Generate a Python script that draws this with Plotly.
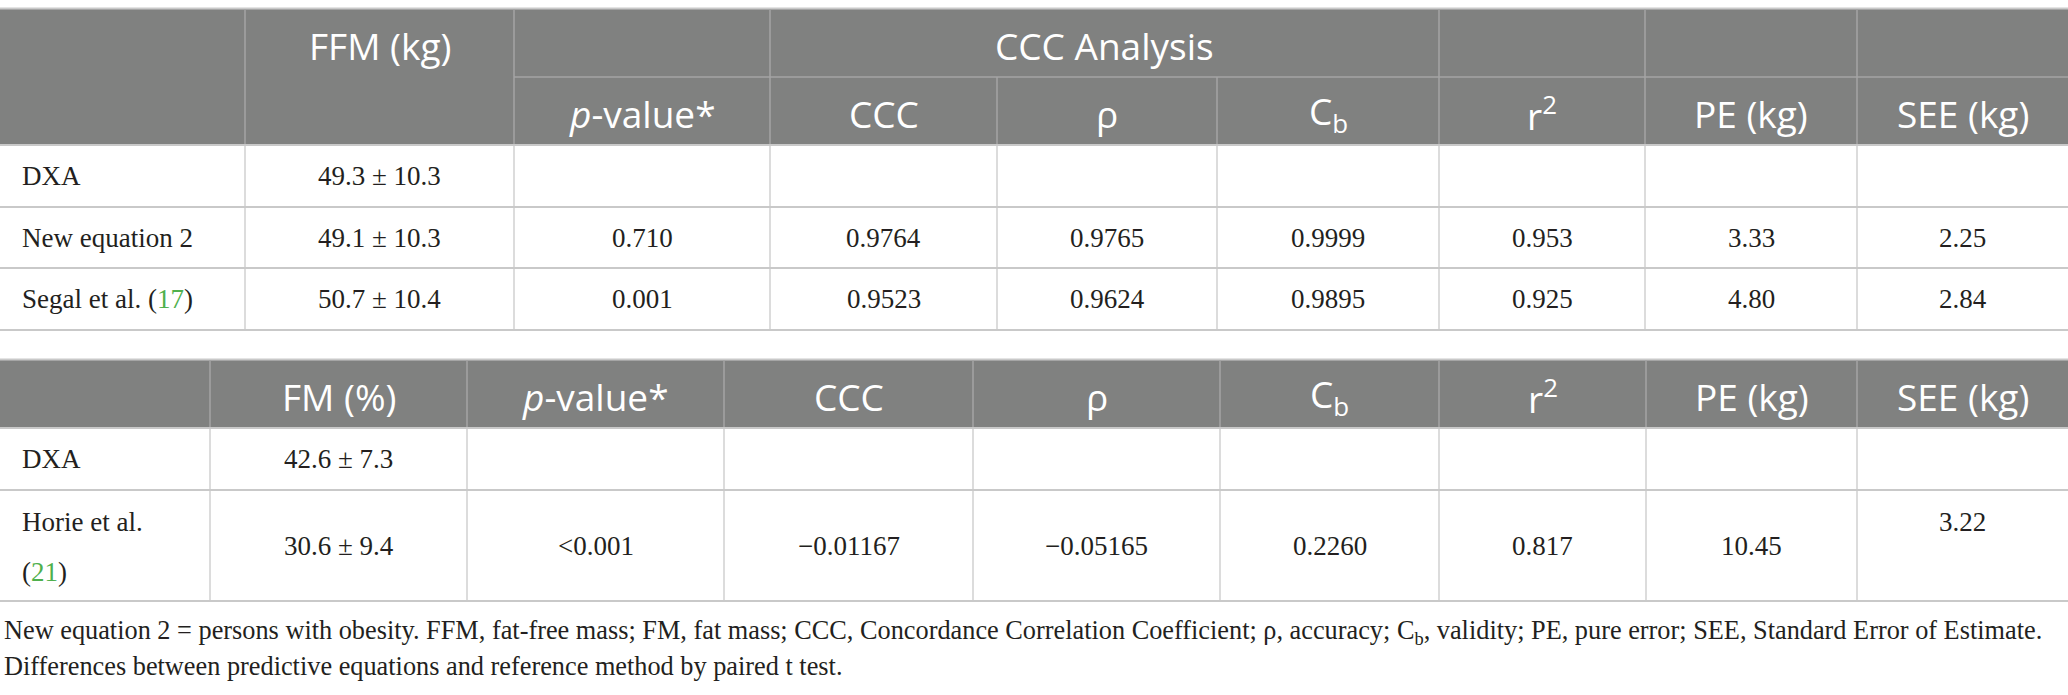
import plotly.graph_objects as go

# ---------------- data ----------------
ffm_labels = ["DXA", "New equation 2", "Segal et al."]
ffm_refs = ["", "", "17"]
ffm_mean = ["49.3 ± 10.3", "49.1 ± 10.3", "50.7 ± 10.4"]
ffm_p = ["", "0.710", "0.001"]
ffm_ccc = ["", "0.9764", "0.9523"]
ffm_rho = ["", "0.9765", "0.9624"]
ffm_cb = ["", "0.9999", "0.9895"]
ffm_r2 = ["", "0.953", "0.925"]
ffm_pe = ["", "3.33", "4.80"]
ffm_see = ["", "2.25", "2.84"]

fm_labels = ["DXA", "Horie et al."]
fm_refs = ["", "21"]
fm_mean = ["42.6 ± 7.3", "30.6 ± 9.4"]
fm_p = ["", "&lt;0.001"]
fm_ccc = ["", "\u22120.01167"]
fm_rho = ["", "\u22120.05165"]
fm_cb = ["", "0.2260"]
fm_r2 = ["", "0.817"]
fm_pe = ["", "10.45"]
fm_see = ["", "3.22"]

t1_head_top = ["FFM (kg)", "CCC Analysis"]
t1_head_cols = ["<i>p</i>-value*", "CCC", "\u03c1", "C<sub>b</sub>", "r<sup>2</sup>", "PE (kg)", "SEE (kg)"]
t2_head_cols = ["FM (%)", "<i>p</i>-value*", "CCC", "\u03c1", "C<sub>b</sub>", "r<sup>2</sup>", "PE (kg)", "SEE (kg)"]

footnote_lines = [
    "New equation 2 = persons with obesity. FFM, fat-free mass; FM, fat mass; CCC, Concordance Correlation Coefficient; "
    "\u03c1, accuracy; C<sub>b</sub>, validity; PE, pure error; SEE, Standard Error of Estimate.",
    "Differences between predictive equations and reference method by paired t test.",
]

# ---------------- layout constants ----------------
W, H = 2068, 695
T1_X = [0, 245, 514, 770, 997, 1217, 1439, 1645, 1857, 2068]
T1_Y = [9, 77, 145, 207, 268, 330]
T2_X = [0, 210, 467, 724, 973, 1220, 1439, 1646, 1857, 2068]
T2_Y = [360, 428, 490, 601]

HEAD_BG = "#808180"
HEAD_LINE = "#a4a5a4"
BODY_LINE = "#c9c9c9"
TXT = "#231f20"
GREEN = "#4fb04d"
SANS = "Open Sans"
SERIF = "Liberation Serif"
HFS = 37
BFS = 27
FFS = 26.3

shapes = []
ann = []


def line(x0, y0, x1, y1, color, w):
    shapes.append(dict(type="line", xref="x", yref="y", x0=x0, y0=y0, x1=x1, y1=y1,
                       line=dict(color=color, width=w), layer="above"))


def text(x, y, s, font, size, color, xanchor="center", yanchor="middle"):
    ann.append(dict(x=x, y=y, xref="x", yref="y", text=s, showarrow=False,
                    xanchor=xanchor, yanchor=yanchor,
                    font=dict(family=font, size=size, color=color)))


def label(name, ref):
    if ref:
        return f"{name} (<span style='color:{GREEN}'>{ref}</span>)"
    return name


def mid(a, b):
    return (a + b) / 2

# ---------------- table 1 ----------------
shapes.append(dict(type="rect", xref="x", yref="y", x0=T1_X[0], x1=T1_X[-1], y0=T1_Y[0], y1=T1_Y[2],
                   fillcolor=HEAD_BG, line=dict(width=0), layer="below"))
line(T1_X[0], T1_Y[0] - 0.5, T1_X[-1], T1_Y[0] - 0.5, BODY_LINE, 2)
for i, x in enumerate(T1_X[1:-1], start=1):
    if i in (4, 5):
        line(x, T1_Y[1], x, T1_Y[2], HEAD_LINE, 1.5)
    else:
        line(x, T1_Y[0], x, T1_Y[2], HEAD_LINE, 1.5)
    line(x, T1_Y[2], x, T1_Y[-1], BODY_LINE, 1.3)
line(T1_X[2], T1_Y[1], T1_X[-1], T1_Y[1], HEAD_LINE, 1.5)
for y in T1_Y[2:]:
    line(T1_X[0], y, T1_X[-1], y, BODY_LINE, 2)

text(mid(T1_X[1], T1_X[2]), mid(T1_Y[0], T1_Y[1]) + 2, t1_head_top[0], SANS, HFS, "white")
text(mid(T1_X[3], T1_X[6]), mid(T1_Y[0], T1_Y[1]) + 2, t1_head_top[1], SANS, HFS, "white")
for j, h in enumerate(t1_head_cols):
    text(mid(T1_X[j + 2], T1_X[j + 3]), mid(T1_Y[1], T1_Y[2]) + 2, h, SANS, HFS, "white")

t1_cols = [ffm_mean, ffm_p, ffm_ccc, ffm_rho, ffm_cb, ffm_r2, ffm_pe, ffm_see]
for r in range(len(ffm_labels)):
    yc = mid(T1_Y[r + 2], T1_Y[r + 3])
    text(20, yc, label(ffm_labels[r], ffm_refs[r]), SERIF, BFS, TXT, xanchor="left")
    for c, col in enumerate(t1_cols):
        if col[r]:
            text(mid(T1_X[c + 1], T1_X[c + 2]), yc, col[r], SERIF, BFS, TXT)

# ---------------- table 2 ----------------
shapes.append(dict(type="rect", xref="x", yref="y", x0=T2_X[0], x1=T2_X[-1], y0=T2_Y[0], y1=T2_Y[1],
                   fillcolor=HEAD_BG, line=dict(width=0), layer="below"))
line(T2_X[0], T2_Y[0] - 0.5, T2_X[-1], T2_Y[0] - 0.5, BODY_LINE, 2)
for x in T2_X[1:-1]:
    line(x, T2_Y[0], x, T2_Y[1], HEAD_LINE, 1.5)
    line(x, T2_Y[1], x, T2_Y[-1], BODY_LINE, 1.3)
for y in T2_Y[1:]:
    line(T2_X[0], y, T2_X[-1], y, BODY_LINE, 2)

for j, h in enumerate(t2_head_cols):
    text(mid(T2_X[j + 1], T2_X[j + 2]), mid(T2_Y[0], T2_Y[1]) + 2, h, SANS, HFS, "white")

t2_cols = [fm_mean, fm_p, fm_ccc, fm_rho, fm_cb, fm_r2, fm_pe, fm_see]
for r in range(len(fm_labels)):
    yc = mid(T2_Y[r + 1], T2_Y[r + 2])
    if fm_refs[r]:
        text(20, yc - 24, fm_labels[r], SERIF, BFS, TXT, xanchor="left")
        text(20, yc + 26, f"(<span style='color:{GREEN}'>{fm_refs[r]}</span>)", SERIF, BFS, TXT, xanchor="left")
    else:
        text(20, yc, fm_labels[r], SERIF, BFS, TXT, xanchor="left")
    for c, col in enumerate(t2_cols):
        if col[r]:
            dy = -24 if (c == len(t2_cols) - 1 and fm_refs[r]) else 0
            text(mid(T2_X[c + 1], T2_X[c + 2]), yc + dy, col[r], SERIF, BFS, TXT)

# ---------------- footnote ----------------
for k, s in enumerate(footnote_lines):
    text(2, 614 + 36 * k, s, SERIF, FFS, TXT, xanchor="left", yanchor="top")

fig = go.Figure()
fig.update_layout(
    width=W, height=H, margin=dict(l=0, r=0, t=0, b=0),
    paper_bgcolor="white", plot_bgcolor="white",
    xaxis=dict(range=[0, W], visible=False, fixedrange=True),
    yaxis=dict(range=[H, 0], visible=False, fixedrange=True),
    shapes=shapes, annotations=ann, showlegend=False,
)
fig.write_html("out.html", config={"displayModeBar": False},
               post_script="document.body.style.margin='0';document.body.style.overflow='hidden';")
